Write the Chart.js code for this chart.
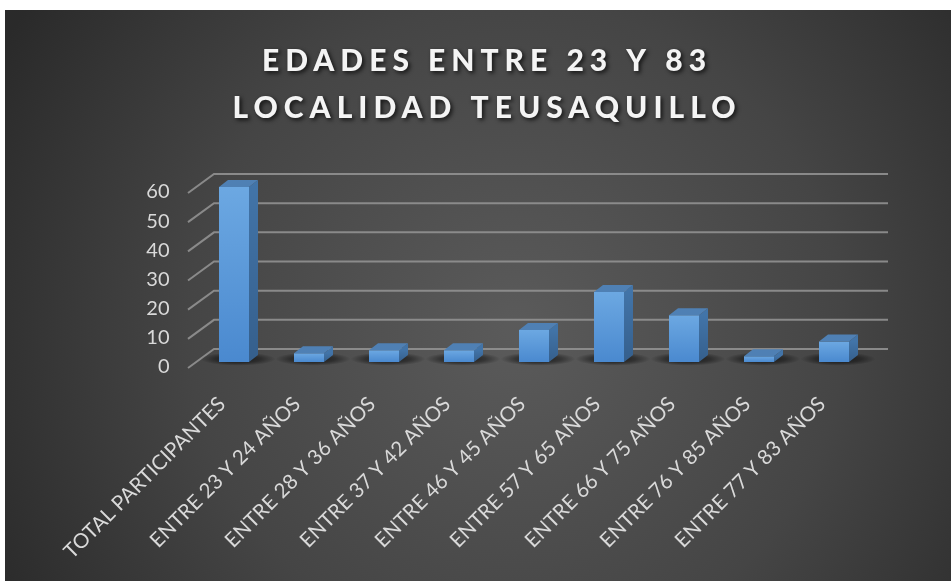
<!DOCTYPE html>
<html>
<head>
<meta charset="utf-8">
<script src="https://cdn.jsdelivr.net/npm/chart.js@4/dist/chart.umd.min.js"></script>
<style>
  html, body { margin: 0; padding: 0; background: #ffffff; }
  #wrap { position: absolute; left: 5px; top: 10px; width: 946px; height: 571px; }
</style>
</head>
<body>
<div id="wrap"><canvas id="edadesChart"></canvas></div>
<script>
// data
var categorias = [
  'TOTAL PARTICIPANTES',
  'ENTRE 23 Y 24 AÑOS',
  'ENTRE 28 Y 36 AÑOS',
  'ENTRE 37 Y 42 AÑOS',
  'ENTRE 46 Y 45 AÑOS',
  'ENTRE 57 Y 65 AÑOS',
  'ENTRE 66 Y 75 AÑOS',
  'ENTRE 76 Y 85 AÑOS',
  'ENTRE 77 Y 83 AÑOS'
];
var participantes = [60, 3, 4, 4, 11, 24, 16, 2, 7];
var tituloLineas = ['EDADES ENTRE 23 Y 83', 'LOCALIDAD TEUSAQUILLO'];
var ejeY = { min: 0, max: 60, paso: 10 };

var fontFam = 'Lato, "Open Sans", sans-serif';
var depth = { dx: 9, dy: -7 };       // bar depth

// background + title
var fondo = {
  id: 'fondo',
  beforeDraw: function(chart) {
    var c = chart.ctx, w = chart.width, h = chart.height;
    c.save();
    var g = c.createRadialGradient(w * 0.54, h * 0.56, 10, w * 0.54, h * 0.56, w * 0.62);
    g.addColorStop(0, '#5a5a5a');
    g.addColorStop(0.55, '#454545');
    g.addColorStop(1, '#2a2a2a');
    c.fillStyle = g;
    c.fillRect(0, 0, w, h);
    c.restore();
  },
  afterDraw: function(chart) {
    var c = chart.ctx;
    var bases = [61, 108];
    c.save();
    c.font = '900 30px Lato, sans-serif';
    c.letterSpacing = '6px';
    c.fillStyle = '#f4f4f4';
    c.textAlign = 'center';
    c.textBaseline = 'alphabetic';
    c.shadowColor = 'rgba(0,0,0,0.75)';
    c.shadowBlur = 4;
    c.shadowOffsetX = 2;
    c.shadowOffsetY = 2;
    for (var i = 0; i < tituloLineas.length; i++) {
      c.fillText(tituloLineas[i], 482, bases[i]);
    }
    c.restore();
  }
};

// back wall grid, floor shadows and 3d faces of bars
var tresD = {
  id: 'tresD',
  beforeDatasetsDraw: function(chart) {
    var c = chart.ctx, y = chart.scales.y, a = chart.chartArea;
    c.save();
    c.strokeStyle = 'rgba(145,145,145,0.9)';
    c.lineWidth = 2;
    y.ticks.forEach(function(t) {
      var py = y.getPixelForValue(t.value);
      c.beginPath();
      c.moveTo(a.left - 8.5, py + 6);
      c.lineTo(a.left + 17.5, py - 13);
      c.lineTo(a.right + 16.5, py - 13);
      c.stroke();
    });
    // shadows on the floor
    chart.getDatasetMeta(0).data.forEach(function(bar) {
      var cx = bar.x + 4, cy = bar.base - 3;
      c.save();
      c.translate(cx, cy);
      c.scale(1, 0.18);
      var g = c.createRadialGradient(0, 0, 0, 0, 0, bar.width * 1.25);
      g.addColorStop(0, 'rgba(0,0,0,0.7)');
      g.addColorStop(0.6, 'rgba(0,0,0,0.4)');
      g.addColorStop(1, 'rgba(0,0,0,0)');
      c.fillStyle = g;
      c.beginPath();
      c.arc(0, 0, bar.width * 1.25, 0, Math.PI * 2);
      c.fill();
      c.restore();
    });
    c.restore();
  },
  afterDatasetsDraw: function(chart) {
    var c = chart.ctx;
    c.save();
    chart.getDatasetMeta(0).data.forEach(function(bar) {
      var l = bar.x - bar.width / 2, r = bar.x + bar.width / 2;
      var top = bar.y, base = bar.base;
      // side
      var gs = c.createLinearGradient(0, top, 0, base);
      gs.addColorStop(0, '#4274a8');
      gs.addColorStop(1, '#355f8c');
      c.fillStyle = gs;
      c.beginPath();
      c.moveTo(r, top);
      c.lineTo(r + depth.dx, top + depth.dy);
      c.lineTo(r + depth.dx, base + depth.dy);
      c.lineTo(r, base);
      c.closePath();
      c.fill();
      // top
      c.fillStyle = '#4f80b4';
      c.beginPath();
      c.moveTo(l, top);
      c.lineTo(l + depth.dx, top + depth.dy);
      c.lineTo(r + depth.dx, top + depth.dy);
      c.lineTo(r, top);
      c.closePath();
      c.fill();
    });
    c.restore();
  }
};

var ctx = document.getElementById('edadesChart').getContext('2d');
var chart = new Chart(ctx, {
  type: 'bar',
  data: {
    labels: categorias,
    datasets: [{
      label: 'Participantes',
      data: participantes,
      borderWidth: 0,
      barPercentage: 0.4,
      categoryPercentage: 1,
      backgroundColor: function(context) {
        var ch = context.chart, ys = ch.scales.y;
        if (!ys || context.raw === undefined) return '#5b9bd5';
        var t = ys.getPixelForValue(context.raw), b = ys.getPixelForValue(0);
        if (!isFinite(t) || !isFinite(b) || t === b) return '#5b9bd5';
        var g = ch.ctx.createLinearGradient(0, t, 0, b);
        g.addColorStop(0, '#6ca8e2');
        g.addColorStop(1, '#4a89cf');
        return g;
      }
    }]
  },
  options: {
    responsive: true,
    maintainAspectRatio: false,
    animation: false,
    layout: { padding: { top: 177, right: 79.5, left: 0, bottom: 0 } },
    plugins: {
      legend: { display: false },
      title: { display: false },
      tooltip: { enabled: false }
    },
    scales: {
      x: {
        grid: { display: false, drawTicks: false },
        border: { display: false },
        afterFit: function(s) { s.height = 219; },
        ticks: {
          color: '#d9d9d9',
          font: { family: fontFam, size: 20.5 },
          minRotation: 45,
          maxRotation: 45,
          autoSkip: false,
          padding: 30,
          labelOffset: -12
        }
      },
      y: {
        min: ejeY.min,
        max: ejeY.max,
        grid: { display: false, drawTicks: false },
        border: { display: false },
        afterFit: function(s) { s.width = 191.5; },
        ticks: {
          stepSize: ejeY.paso,
          color: '#d9d9d9',
          font: { family: fontFam, size: 20 },
          padding: 27,
          labelOffset: 5
        }
      }
    }
  },
  plugins: [fondo, tresD]
});
</script>
</body>
</html>
